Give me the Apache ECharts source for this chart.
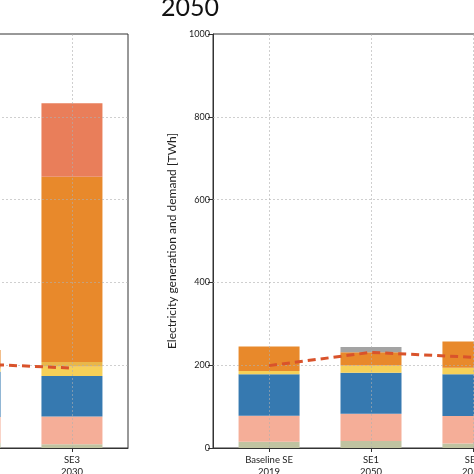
<!DOCTYPE html>
<html><head><meta charset="utf-8">
<script src="https://cdn.jsdelivr.net/npm/echarts@6/dist/echarts.min.js"></script>
<style>html,body{margin:0;padding:0;background:#fff}#c{width:474px;height:474px}</style>
</head><body><div id="c"></div>
<script>
// ---- data ----
const leftCategories = ['SE2\n2030', 'SE3\n2030'];
const rightCategories = ['Baseline SE\n2019', 'SE1\n2050', 'SE3\n2050'];
const yTicks = [0, 200, 400, 600, 800, 1000];
const segmentNames = ['olive', 'salmon', 'blue', 'yellow', 'gold', 'orange', 'coral', 'gray'];
const segmentColors = ['#c0c3a1', '#f5ae98', '#3679b0', '#f6d058', '#e9b74a', '#e8892b', '#e97e5a', '#a3a3a3'];

// left panel (partially visible)
const leftOlive  = [12, 9];
const leftSalmon = [63, 67];
const leftBlue   = [109, 98];
const leftYellow = [8, 22];
const leftGold   = [0, 12];
const leftOrange = [45, 447];
const leftCoral  = [0, 178];
const leftGray   = [0, 0];
const leftDemand = [204, 193];

// right panel (2050)
const rightOlive  = [15, 17, 11];
const rightSalmon = [63, 66, 66];
const rightBlue   = [100, 99, 101];
const rightYellow = [8, 17, 16];
const rightGold   = [0, 0, 0];
const rightOrange = [59, 32, 63];
const rightCoral  = [0, 0, 0];
const rightGray   = [0, 13, 0];
const rightDemand = [199, 231, 219];

const leftSegments = [leftOlive, leftSalmon, leftBlue, leftYellow, leftGold, leftOrange, leftCoral, leftGray];
const rightSegments = [rightOlive, rightSalmon, rightBlue, rightYellow, rightGold, rightOrange, rightCoral, rightGray];

// ---- chart ----
const FONT = 'Lato';
const gridColor = 'rgba(175,175,175,0.6)';
// value first so the stack runs on the y dimension; x position = category index
function pairs(arr) { return arr.map((v, i) => [v, i]); }

function panelSeries(segments, demand, categories, idx) {
  const s = [];
  segments.forEach((arr, k) => {
    s.push({
      type: 'bar', name: segmentNames[k] + idx, xAxisIndex: idx, yAxisIndex: idx,
      stack: 'gen' + idx, barWidth: 61, data: pairs(arr), encode: { x: 1, y: 0 },
      itemStyle: { color: segmentColors[k] }, z: 2
    });
  });
  s.push({
    type: 'line', xAxisIndex: idx, yAxisIndex: idx, data: [], silent: true,
    markLine: {
      silent: true, symbol: ['none', 'none'], label: { show: false }, animation: false,
      lineStyle: { color: gridColor, type: [2, 2], width: 1 },
      data: categories.map((c, i) => ({ xAxis: i }))
        .concat(yTicks.slice(1, -1).map(v => ({ yAxis: v })))
    }
  });
  s.push({
    type: 'line', xAxisIndex: idx, yAxisIndex: idx, data: pairs(demand), encode: { x: 1, y: 0 }, z: 8,
    symbol: 'none', lineStyle: { color: '#d9532b', width: 3, type: [8, 5] }
  });
  return s;
}

function xAxisFor(categories, idx) {
  const vals = categories.map((c, i) => i);
  return {
    gridIndex: idx, type: 'value', min: -0.55, max: categories.length - 1 + 0.55,
    splitLine: { show: false },
    axisLine: { show: true, onZero: false, lineStyle: { color: '#333', width: 1 } },
    axisTick: { show: true, customValues: vals, length: 4, inside: false, lineStyle: { color: '#333' } },
    axisLabel: {
      customValues: vals, formatter: v => categories[Math.round(v)] || '',
      fontFamily: FONT, fontSize: 9.5, color: '#222', margin: 6, lineHeight: 12
    }
  };
}

const chart = echarts.init(document.getElementById('c'), null, { renderer: 'canvas' });
chart.setOption({
  animation: false,
  backgroundColor: '#fff',
  graphic: [{
    type: 'text', x: 190, y: -5, z: 10,
    style: { text: '2050', font: '25px Lato', fill: '#111', textAlign: 'center', textVerticalAlign: 'top' }
  }],
  grid: [
    { left: -86, top: 34, width: 214, height: 414, outerBoundsMode: 'none', containLabel: false,
      show: true, borderColor: '#333', borderWidth: 1, backgroundColor: 'transparent' },
    { left: 213, top: 34, width: 316, height: 414, outerBoundsMode: 'none', containLabel: false,
      show: true, borderColor: '#333', borderWidth: 1, backgroundColor: 'transparent' }
  ],
  xAxis: [xAxisFor(leftCategories, 0), xAxisFor(rightCategories, 1)],
  yAxis: [
    { gridIndex: 0, type: 'value', min: 0, max: 1000, interval: 200,
      axisLabel: { show: false }, axisTick: { show: false }, splitLine: { show: false },
      axisLine: { show: true, onZero: false, lineStyle: { color: '#333' } } },
    { gridIndex: 1, type: 'value', min: 0, max: 1000, interval: 200,
      axisLine: { show: true, onZero: false, lineStyle: { color: '#333', width: 1 } },
      axisTick: { show: true, length: 5, lineStyle: { color: '#333' } },
      splitLine: { show: false },
      axisLabel: { fontFamily: FONT, fontSize: 9, color: '#222', margin: 3, formatter: v => String(v) },
      name: 'Electricity generation and demand [TWh]', nameLocation: 'middle', nameGap: 31,
      nameTextStyle: { fontFamily: FONT, fontSize: 12, color: '#222' } }
  ],
  series: panelSeries(leftSegments, leftDemand, leftCategories, 0)
    .concat(panelSeries(rightSegments, rightDemand, rightCategories, 1))
});
</script></body></html>
